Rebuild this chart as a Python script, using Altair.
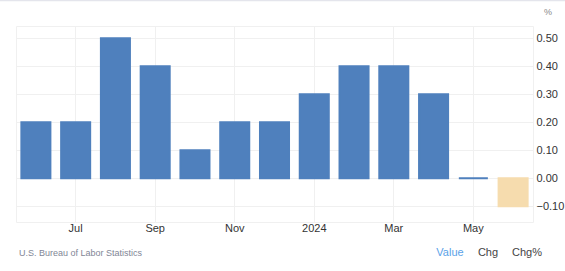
import altair as alt
import pandas as pd

months = ["Jun 2023", "Jul 2023", "Aug 2023", "Sep 2023", "Oct 2023", "Nov 2023",
          "Dec 2023", "Jan 2024", "Feb 2024", "Mar 2024", "Apr 2024", "May 2024", "Jun 2024"]
values = [0.2, 0.2, 0.5, 0.4, 0.1, 0.2, 0.2, 0.3, 0.4, 0.4, 0.3, 0.0, -0.1]
tick_months = ["Jul 2023", "Sep 2023", "Nov 2023", "Jan 2024", "Mar 2024", "May 2024"]
tick_labels = ["Jul", "Sep", "Nov", "2024", "Mar", "May"]
y_ticks = [-0.1, 0.0, 0.1, 0.2, 0.3, 0.4, 0.5]
footer_source = "U.S. Bureau of Labor Statistics"
footer_tabs = ["Value", "Chg", "Chg%"]

df = pd.DataFrame({"month": months, "value": values})
df["sign"] = ["neg" if v < 0 else "pos" for v in values]
one = pd.DataFrame({"k": [0]})

label_expr = " : ".join(
    [f"datum.value == '{m}' ? '{l}'" for m, l in zip(tick_months, tick_labels)] + ["''"]
)

W, H = 517, 196
GRID = "#f0f0f0"
FONT = "Liberation Sans"
col = alt.Scale(domain=["pos", "neg"], range=["#4f80bd", "#f6dcae"])

bars = alt.Chart(df).mark_bar(strokeWidth=2).encode(
    x=alt.X("month:O", sort=months,
            scale=alt.Scale(paddingInner=0.27, paddingOuter=0.135),
            axis=alt.Axis(values=tick_months, labelExpr=label_expr, title=None,
                          labelAngle=0, domain=False, ticks=False, grid=True,
                          gridColor=GRID, bandPosition=0.5, labelFontSize=11,
                          labelColor="#333333", labelPadding=0, labelFont=FONT)),
    y=alt.Y("value:Q", scale=alt.Scale(domain=[-0.156, 0.544], nice=False, zero=False),
            axis=alt.Axis(orient="right", values=y_ticks, format=".2f", title=None,
                          domain=False, ticks=False, grid=True, gridColor=GRID,
                          labelFontSize=11, labelColor="#333333", labelPadding=3,
                          labelFont=FONT)),
    color=alt.Color("sign:N", scale=col, legend=None),
    stroke=alt.Stroke("sign:N", scale=col, legend=None),
)

base = alt.Chart(one)
pct = base.mark_text(fontSize=9, color="#888888", align="center", font=FONT).encode(
    x=alt.value(W + 15), y=alt.value(-14), text=alt.value("%"))

topline = base.mark_rule(color="#e4e5ec", strokeWidth=1.5).encode(
    x=alt.value(-16), x2=alt.value(W + 32), y=alt.value(-25.5))

src = base.mark_text(fontSize=9, color="#7f8696", align="left", font=FONT).encode(
    x=alt.value(3), y=alt.value(227), text=alt.value(footer_source))
v1 = base.mark_text(fontSize=11, color="#5aa2e8", align="center", font=FONT).encode(
    x=alt.value(434), y=alt.value(227), text=alt.value(footer_tabs[0]))
v2 = base.mark_text(fontSize=11, color="#444444", align="center", font=FONT).encode(
    x=alt.value(472), y=alt.value(227), text=alt.value(footer_tabs[1]))
v3 = base.mark_text(fontSize=11, color="#444444", align="center", font=FONT).encode(
    x=alt.value(511), y=alt.value(227), text=alt.value(footer_tabs[2]))

chart = alt.layer(bars, pct, topline, src, v1, v2, v3).properties(
    width=W, height=H,
    autosize=alt.AutoSizeParams(type="none"),
    padding={"left": 16, "top": 26, "right": 32, "bottom": 49},
).configure_view(stroke=GRID)

chart.save("out.html", embed_options={"renderer": "svg", "actions": False})
